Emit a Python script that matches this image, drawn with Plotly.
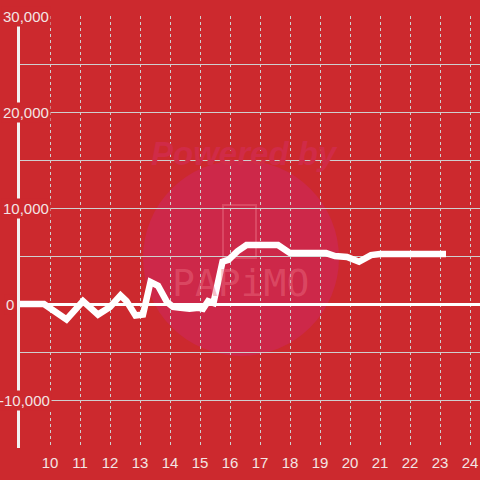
import plotly.graph_objects as go

# Data
hours = [9.0, 9.8, 10.55, 11.1, 11.6, 12.0, 12.35, 12.55, 12.85, 13.1, 13.35, 13.6, 13.9, 14.1,
         14.35, 14.65, 14.95, 15.1, 15.27, 15.45, 15.75, 15.95, 16.25, 16.55, 17.6, 18.0, 19.2,
         19.5, 19.9, 20.3, 20.7, 21.0, 23.2]
values = [0, 0, -1600, 300, -1100, -300, 900, 300, -1200, -1100, 2300, 1900, 200, -300,
          -400, -500, -400, -500, 300, 100, 4400, 4600, 5500, 6150, 6150, 5300, 5300,
          5000, 4900, 4400, 5100, 5200, 5200]
x_ticks = [10, 11, 12, 13, 14, 15, 16, 17, 18, 19, 20, 21, 22, 23, 24]
y_ticks = [30000, 20000, 10000, 0, -10000]
y_tick_labels = ["30,000", "20,000", "10,000", "0", "-10,000"]

BG = "#cc292e"
TXT = "#f3e4e4"
GRID = "#cfcfcf"

W, H = 480, 480
L, T, B, R = 20, 16, 32, 0
PW, PH = W - L - R, H - T - B  # 460 x 432

fig = go.Figure()
fig.add_trace(go.Scatter(x=hours, y=values, mode="lines",
                         line=dict(color="white", width=6.5), hoverinfo="skip"))

fig.update_layout(
    width=W, height=H,
    margin=dict(l=L, r=R, t=T, b=B, autoexpand=False),
    paper_bgcolor=BG, plot_bgcolor=BG,
    showlegend=False,
    font=dict(family="Liberation Sans, Arial", size=15, color=TXT),
    xaxis=dict(range=[9, 9 + PW / 30], tickvals=x_ticks, ticks="", showline=False,
               showgrid=True, gridcolor=GRID, griddash="dot", gridwidth=1,
               zeroline=False, tickfont=dict(size=15, color=TXT), ticklabelstandoff=4),
    yaxis=dict(range=[-15000, 30000], dtick=5000, showticklabels=False, ticks="",
               showgrid=True, gridcolor=GRID, gridwidth=1,
               zeroline=True, zerolinecolor="white", zerolinewidth=3,
               showline=True, linecolor="#f2f2f2", linewidth=3, mirror=False),
)

def px_x(p):
    return (p - L) / PW

def px_y(p):
    return (H - B - p) / PH

shapes = [
    dict(type="circle", xref="paper", yref="paper", x0=px_x(143), x1=px_x(339),
         y0=px_y(356), y1=px_y(160),
         fillcolor="#cd2849", line=dict(width=0), layer="below"),
    dict(type="rect", xref="paper", yref="paper", x0=px_x(223), x1=px_x(256),
         y0=px_y(258), y1=px_y(205),
         line=dict(color="rgba(235,110,130,0.45)", width=2), layer="below"),
]
fig.update_layout(shapes=shapes)

annotations = [
    dict(text="<b><i>Powered by</i></b>", xref="paper", yref="paper", x=px_x(244), y=px_y(133),
         showarrow=False, font=dict(size=33, color="#d02b47", family="Liberation Sans")),
    dict(text="PAPiMO", xref="paper", yref="paper", x=px_x(240), y=px_y(283), showarrow=False,
         font=dict(size=38, color="rgba(235,110,130,0.45)", family="DejaVu Sans Mono")),
]
label_right_px = [51, 51, 51, 16, 52]
for v, lab, rp in zip(y_ticks, y_tick_labels, label_right_px):
    annotations.append(dict(text=lab, xref="paper", yref="y", x=px_x(rp), y=v, xanchor="right",
                            yanchor="middle", showarrow=False, bgcolor=BG, borderpad=1,
                            font=dict(size=15, color=TXT)))
fig.update_layout(annotations=annotations)

fig.write_html("out.html", config={"displayModeBar": False},
               post_script="document.body.style.margin='0';")
